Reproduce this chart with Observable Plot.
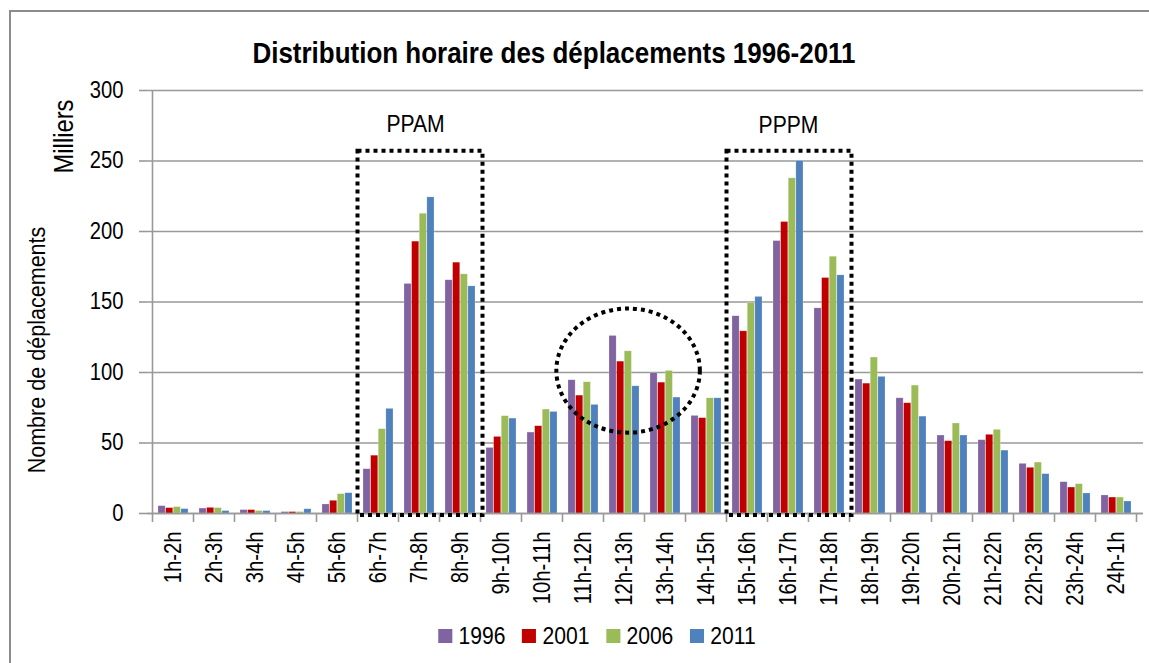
<!DOCTYPE html>
<html>
<head>
<meta charset="utf-8">
<script src="https://cdn.jsdelivr.net/npm/d3@7"></script>
<script src="https://cdn.jsdelivr.net/npm/@observablehq/plot@0.6"></script>
<style>
  body { margin: 0; background: #fff; }
  #wrap { position: relative; width: 1149px; height: 663px; overflow: hidden; font-family: "Liberation Sans", Arial, sans-serif; }
  #border { position: absolute; left: 9px; top: 10px; width: 1300px; height: 800px; border-left: 2px solid #8c8c8c; border-top: 2px solid #8c8c8c; }
  #title { position: absolute; left: 554px; top: 38px; font-size: 29.5px; font-weight: bold; line-height: 1; color: #000; white-space: nowrap; transform: translateX(-50%) scaleX(0.88); }
  #chart { position: absolute; left: 0; top: 0; }
  #legend { position: absolute; left: 597px; top: 624px; display: flex; font-size: 24px; line-height: 1; color: #000; white-space: nowrap; transform: translateX(-50%) scaleX(0.88); }
  #legend .item { display: flex; align-items: center; margin-right: 19px; }
  #legend .item:last-child { margin-right: 0; }
  #legend .sw { width: 16px; height: 14px; display: inline-block; margin-right: 7px; }
</style>
</head>
<body>
<div id="wrap">
  <div id="border"></div>
  <div id="chart"></div>
  <div id="title">Distribution horaire des déplacements 1996-2011</div>
  <div id="legend"></div>
</div>
<script>
const hours = ["1h-2h","2h-3h","3h-4h","4h-5h","5h-6h","6h-7h","7h-8h","8h-9h","9h-10h","10h-11h","11h-12h","12h-13h","13h-14h","14h-15h","15h-16h","16h-17h","17h-18h","18h-19h","19h-20h","20h-21h","21h-22h","22h-23h","23h-24h","24h-1h"];
const years = ["1996","2001","2006","2011"];
const v1996 = [5.2,3.5,2.4,1,6.4,31.4,162.8,165.4,46.5,57.4,94.5,125.9,99.5,69.2,139.9,193.2,145.5,95,81.7,55.3,52,35.2,22.2,12.8];
const v2001 = [3.8,4,2.4,1,9,41,192.8,177.9,54.3,61.9,83.6,107.7,92.8,67.6,129.2,206.7,167,92.1,78.2,51.3,55.8,32.4,18.4,11.3];
const v2006 = [4.5,3.8,1.7,1,13.7,59.8,212.6,169.6,69,73.7,93.1,115,101.1,81.7,149.3,237.7,182.1,110.6,90.7,63.8,59.3,36.1,20.8,11.3];
const v2011 = [3.1,1.7,1.7,3,14.4,74.2,224.2,161.1,67.3,72,77,90.2,82.2,81.7,153.6,250,168.9,96.9,68.7,55.3,44.6,27.9,14.2,8.5];
const colors = ["#8064A2","#C00000","#9BBB59","#4F81BD"];
const yTicks = [0,50,100,150,200,250,300];
const series = [v1996, v2001, v2006, v2011];

const W = 1149, H = 610, mL = 147, mR = 6, mT = 90, mB = 97;
const pIn = 0.265, pOut = 0.1325;
const step = (W - mL - mR) / (hours.length - pIn + 2 * pOut);
const bw = step * (1 - pIn);
const each = bw / years.length;
const narrow = 0.88;
const gridColor = "#999999";

const font = "'Liberation Sans', Arial, sans-serif";

const barMarks = series.map((vals, i) =>
  Plot.barY(hours.map((h, j) => ({hour: h, value: vals[j], year: years[i]})), {
    x: "hour", y: "value", fill: colors[i],
    insetLeft: i * each, insetRight: (years.length - 1 - i) * each,
    stroke: "#fff", strokeOpacity: 0.35, strokeWidth: 0.6
  })
);

const plot = Plot.plot({
  width: W, height: H,
  marginLeft: mL, marginRight: mR, marginTop: mT, marginBottom: mB,
  style: {fontFamily: font, fontSize: "23px", color: "#000", background: "transparent"},
  x: {domain: hours, paddingInner: pIn, paddingOuter: pOut, label: null},
  y: {domain: [0, 300], label: null},
  marks: [
    Plot.gridY(yTicks, {stroke: gridColor, strokeOpacity: 1, strokeWidth: 1.6}),
    ...barMarks,
    Plot.ruleY([0], {stroke: gridColor, strokeWidth: 1.6}),
    Plot.axisY({ticks: yTicks, tickSize: 8, tickPadding: 16, fontSize: 23, stroke: gridColor, strokeWidth: 1.6, label: null}),
    Plot.axisX({tickSize: 0, tickPadding: 18, tickRotate: -90, fontSize: 23, label: null}),
    Plot.text(["Milliers"], {frameAnchor: "top-left", dx: -83, dy: 46, rotate: -90, textAnchor: "middle", lineAnchor: "middle", fontSize: 27}),
    Plot.text(["Nombre de déplacements"], {frameAnchor: "left", dx: -110, dy: 48, rotate: -90, textAnchor: "middle", lineAnchor: "middle", fontSize: 24.5}),
    Plot.text([{x: "7h-8h", y: 276, t: "PPAM"}], {x: "x", y: "y", text: "t", dx: -4, fontSize: 24}),
    Plot.text([{x: "16h-17h", y: 275, t: "PPPM"}], {x: "x", y: "y", text: "t", fontSize: 24})
  ]
});
document.getElementById("chart").appendChild(plot);

// condense all chart text horizontally (narrow face look)
d3.select(plot).selectAll("text").each(function() {
  const t = d3.select(this);
  const tr = t.attr("transform");
  if (tr) {
    t.attr("transform", tr + ` scale(${narrow},1)`);
  } else {
    const x = +t.attr("x") || 0, y = +t.attr("y") || 0;
    t.attr("x", null).attr("y", null)
     .attr("transform", `translate(${x},${y}) scale(${narrow},1)`);
  }
});

// Post-render decorations positioned through the plot's own scales
const sx = plot.scale("x"), sy = plot.scale("y");
const gap = sx.step - sx.bandwidth;
const startOf = h => sx.apply(h) - gap / 2;
const endOf = h => sx.apply(h) + sx.bandwidth + gap / 2;
const svg = d3.select(plot);
const deco = svg.append("g");

// y axis line
deco.append("line")
  .attr("x1", startOf(hours[0])).attr("x2", startOf(hours[0]))
  .attr("y1", sy.apply(300)).attr("y2", sy.apply(0))
  .attr("stroke", gridColor).attr("stroke-width", 1.6);

// category boundary ticks
const bounds = hours.map(startOf).concat([endOf(hours[hours.length - 1])]);
deco.selectAll("line.tk").data(bounds).join("line")
  .attr("class", "tk")
  .attr("x1", d => d).attr("x2", d => d)
  .attr("y1", sy.apply(0)).attr("y2", sy.apply(0) + 9)
  .attr("stroke", gridColor).attr("stroke-width", 1.6);

// dotted boxes around peak periods
const boxes = [
  {from: "6h-7h", to: "8h-9h", top: 257, bottom: -1.5},
  {from: "15h-16h", to: "17h-18h", top: 257, bottom: -1.5}
];
deco.selectAll("rect.box").data(boxes).join("rect")
  .attr("class", "box")
  .attr("x", d => startOf(d.from))
  .attr("y", d => sy.apply(d.top))
  .attr("width", d => endOf(d.to) - startOf(d.from) + 2)
  .attr("height", d => sy.apply(d.bottom) - sy.apply(d.top))
  .attr("fill", "none").attr("stroke", "#000")
  .attr("stroke-width", 4).attr("stroke-dasharray", "4 4");

// dotted ellipse around midday
const ell = {at: "12h-13h", shift: 0.1, y: 101, rx: 1.75, ry: 44};
deco.append("ellipse")
  .attr("cx", sx.apply(ell.at) + sx.bandwidth / 2 + ell.shift * sx.step)
  .attr("cy", sy.apply(ell.y))
  .attr("rx", ell.rx * sx.step)
  .attr("ry", sy.apply(0) - sy.apply(ell.ry))
  .attr("fill", "none").attr("stroke", "#000")
  .attr("stroke-width", 4).attr("stroke-dasharray", "4 4");

// legend
const legend = d3.select("#legend");
years.forEach((y, i) => {
  const it = legend.append("div").attr("class", "item");
  it.append("span").attr("class", "sw").style("background", colors[i]);
  it.append("span").text(y);
});
</script>
</body>
</html>
